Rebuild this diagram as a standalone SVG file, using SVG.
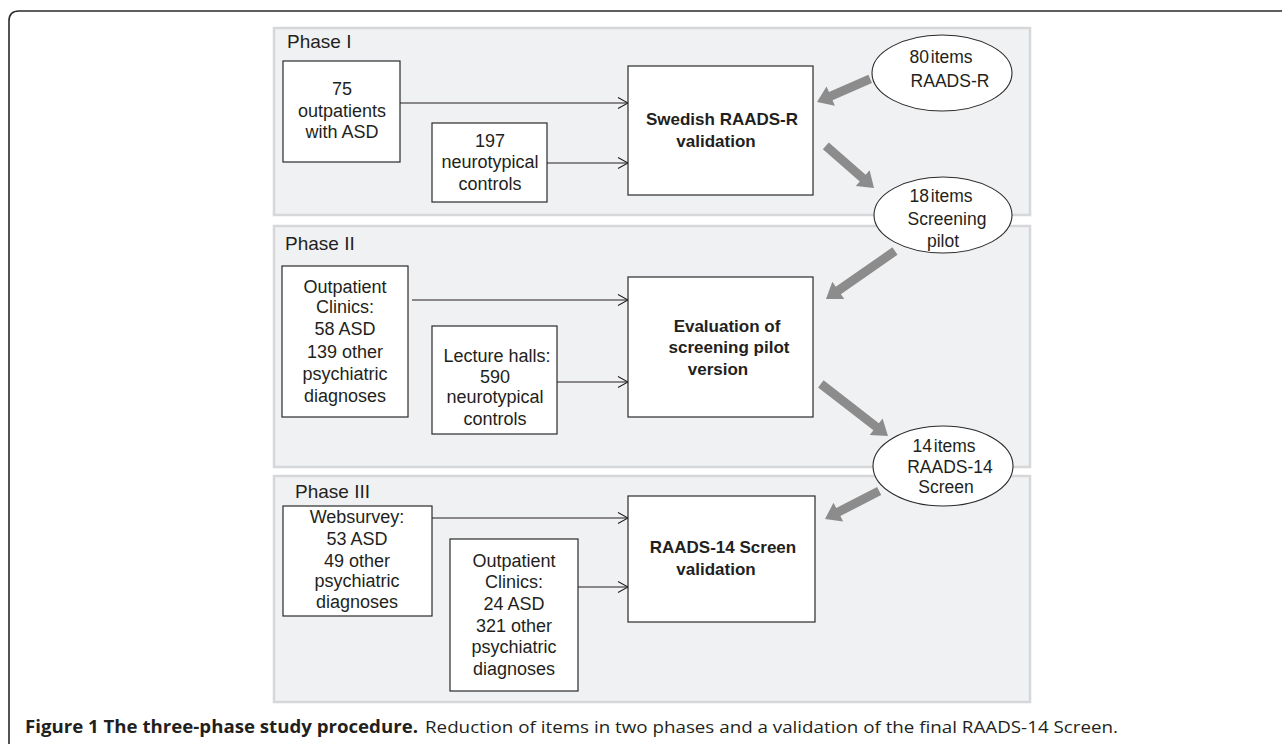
<svg xmlns="http://www.w3.org/2000/svg" width="1282" height="744" viewBox="0 0 1282 744">
<defs>
<style>
.panel{fill:#f0f1f3;stroke:#d6d7d9;stroke-width:2.5}
.box{fill:#fff;stroke:#2a2a2a;stroke-width:1.2}
.ell{fill:#fff;stroke:#2a2a2a;stroke-width:1.1}
.t{font-family:"Liberation Sans",Arial,sans-serif;font-size:18px;fill:#231f20;text-anchor:middle}
.te{font-family:"Liberation Sans",Arial,sans-serif;font-size:17.5px;fill:#231f20;text-anchor:middle;word-spacing:-3px}
.b{font-family:"Liberation Sans",Arial,sans-serif;font-size:17px;font-weight:bold;fill:#231f20;text-anchor:middle}
.ph{font-family:"Liberation Sans",Arial,sans-serif;font-size:19px;fill:#231f20}
.ln{stroke:#231f20;stroke-width:1.1;fill:none}
.big{fill:#8c8c8c}
.cap{font-family:"Open Sans","Liberation Sans",sans-serif;font-size:17px;fill:#231f20}
</style>
<marker id="open" viewBox="0 0 12 12" refX="11" refY="6" markerWidth="12" markerHeight="12" markerUnits="userSpaceOnUse" orient="auto">
<path d="M1,0.5 L11,6 L1,11.5" fill="none" stroke="#231f20" stroke-width="1.1"/>
</marker>
</defs>
<rect width="1282" height="744" fill="#fff"/>
<path d="M9,744 V21 Q9,11 19,11 H1282" fill="none" stroke="#2a2a2a" stroke-width="1.6"/>

<g id="panels">
<rect class="panel" x="274" y="28" width="756" height="187"/>
<rect class="panel" x="274" y="226" width="756" height="241"/>
<rect class="panel" x="274" y="476" width="756" height="226"/>
<text class="ph" x="287" y="48">Phase I</text>
<text class="ph" x="285" y="250">Phase II</text>
<text class="ph" x="295" y="498">Phase III</text>
</g>

<g id="connectors">
<line class="ln" x1="400" y1="103" x2="628" y2="103" marker-end="url(#open)"/>
<line class="ln" x1="547" y1="163" x2="628" y2="163" marker-end="url(#open)"/>
<line class="ln" x1="412" y1="300" x2="628" y2="300" marker-end="url(#open)"/>
<line class="ln" x1="557" y1="382" x2="628" y2="382" marker-end="url(#open)"/>
<line class="ln" x1="432" y1="518" x2="628" y2="518" marker-end="url(#open)"/>
<line class="ln" x1="578" y1="587" x2="628" y2="587" marker-end="url(#open)"/>
<g transform="translate(817,102) rotate(156.5)"><polygon class="big" points="-58,-4.5 -15,-4.5 -15,-10.5 0,0 -15,10.5 -15,4.5 -58,4.5"/></g>
<g transform="translate(874,188) rotate(41.2)"><polygon class="big" points="-64,-4.5 -15,-4.5 -15,-10.5 0,0 -15,10.5 -15,4.5 -64,4.5"/></g>
<g transform="translate(826,299) rotate(145.2)"><polygon class="big" points="-84,-4.5 -15,-4.5 -15,-10.5 0,0 -15,10.5 -15,4.5 -84,4.5"/></g>
<g transform="translate(888,436) rotate(37.8)"><polygon class="big" points="-85,-4.5 -15,-4.5 -15,-10.5 0,0 -15,10.5 -15,4.5 -85,4.5"/></g>
<g transform="translate(825,519) rotate(152.6)"><polygon class="big" points="-61,-4.5 -15,-4.5 -15,-10.5 0,0 -15,10.5 -15,4.5 -61,4.5"/></g>
</g>

<g id="p1-asd">
<rect class="box" x="283" y="61" width="117" height="101"/>
<text class="t" x="342" y="95">75</text>
<text class="t" x="342" y="117">outpatients</text>
<text class="t" x="342" y="138">with ASD</text>
</g>
<g id="p1-ctrl">
<rect class="box" x="432" y="123" width="115" height="79"/>
<text class="t" x="490" y="147">197</text>
<text class="t" x="490" y="168">neurotypical</text>
<text class="t" x="490" y="190">controls</text>
</g>
<g id="p1-main">
<rect class="box" x="628" y="66" width="185" height="129"/>
<text class="b" x="722" y="125">Swedish RAADS-R</text>
<text class="b" x="716" y="147">validation</text>
</g>
<g id="e1">
<ellipse class="ell" cx="942" cy="73" rx="70" ry="38"/>
<text class="te" x="941" y="63">80 items</text>
<text class="te" x="950" y="87">RAADS-R</text>
</g>

<g id="p2-clin">
<rect class="box" x="282" y="266" width="126" height="151"/>
<text class="t" x="345" y="293">Outpatient</text>
<text class="t" x="345" y="313">Clinics:</text>
<text class="t" x="345" y="335">58 ASD</text>
<text class="t" x="345" y="358">139 other</text>
<text class="t" x="345" y="380">psychiatric</text>
<text class="t" x="345" y="402">diagnoses</text>
</g>
<g id="p2-lect">
<rect class="box" x="432" y="326" width="125" height="108"/>
<text class="t" x="497" y="362">Lecture halls:</text>
<text class="t" x="495" y="383">590</text>
<text class="t" x="495" y="403">neurotypical</text>
<text class="t" x="495" y="425">controls</text>
</g>
<g id="p2-main">
<rect class="box" x="628" y="277" width="185" height="140"/>
<text class="b" x="727" y="332">Evaluation of</text>
<text class="b" x="729" y="353">screening pilot</text>
<text class="b" x="718" y="375">version</text>
</g>
<g id="e2">
<ellipse class="ell" cx="943" cy="215" rx="69" ry="38"/>
<text class="te" x="941" y="202">18 items</text>
<text class="te" x="947" y="225">Screening</text>
<text class="te" x="943" y="247">pilot</text>
</g>

<g id="p3-web">
<rect class="box" x="283" y="506" width="149" height="110"/>
<text class="t" x="357" y="523">Websurvey:</text>
<text class="t" x="357" y="545">53 ASD</text>
<text class="t" x="357" y="567">49 other</text>
<text class="t" x="357" y="587">psychiatric</text>
<text class="t" x="357" y="608">diagnoses</text>
</g>
<g id="p3-clin">
<rect class="box" x="450" y="539" width="128" height="152"/>
<text class="t" x="514" y="567">Outpatient</text>
<text class="t" x="514" y="588">Clinics:</text>
<text class="t" x="514" y="610">24 ASD</text>
<text class="t" x="514" y="632">321 other</text>
<text class="t" x="514" y="653">psychiatric</text>
<text class="t" x="514" y="675">diagnoses</text>
</g>
<g id="p3-main">
<rect class="box" x="628" y="496" width="187" height="126"/>
<text class="b" x="723" y="553">RAADS-14 Screen</text>
<text class="b" x="716" y="575">validation</text>
</g>
<g id="e3">
<ellipse class="ell" cx="943" cy="466" rx="70" ry="40"/>
<text class="te" x="944" y="452">14 items</text>
<text class="te" x="950" y="473">RAADS-14</text>
<text class="te" x="946" y="493">Screen</text>
</g>

<g id="caption">
<text class="cap" x="25" y="733" font-weight="bold" textLength="393" lengthAdjust="spacingAndGlyphs">Figure 1 The three-phase study procedure.</text>
<text class="cap" x="425" y="733" textLength="693" lengthAdjust="spacingAndGlyphs">Reduction of items in two phases and a validation of the final RAADS-14 Screen.</text>
</g>
</svg>
